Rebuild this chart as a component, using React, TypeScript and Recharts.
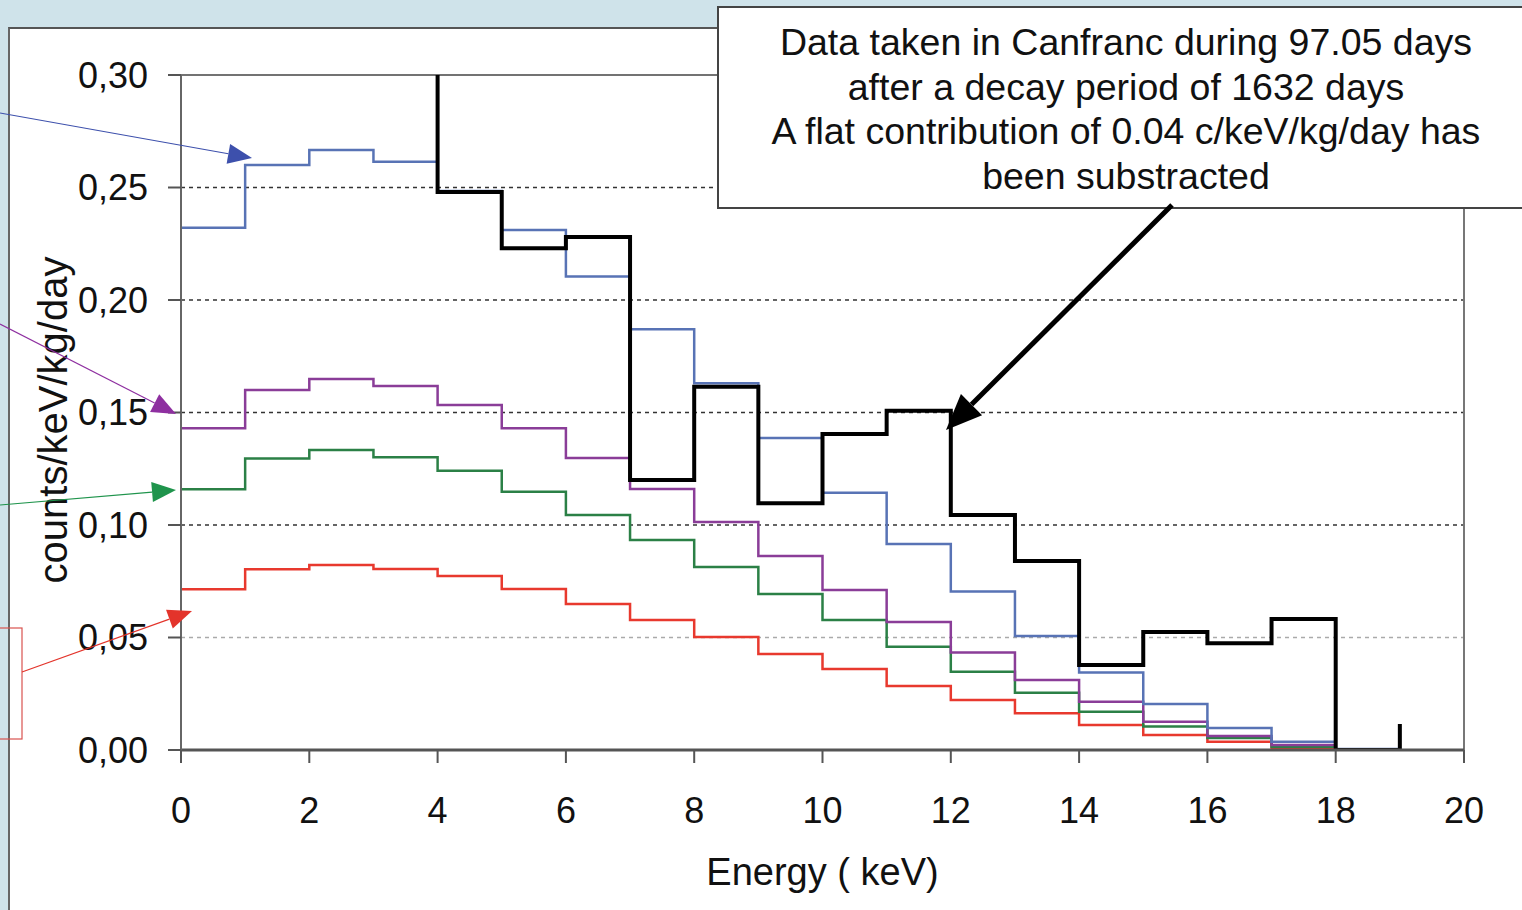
import { LineChart, Line, XAxis, YAxis, ReferenceLine, Label } from 'recharts';

// Energy bin edges (keV); each value holds from its edge to the next one.
const energies = [0, 1, 2, 3, 4, 5, 6, 7, 8, 9, 10, 11, 12, 13, 14, 15, 16, 17, 18, 19];

// Measured spectrum (first bins lie above the plotted range)
const measured = [0.45, 0.42, 0.38, 0.34, 0.248, 0.223, 0.228, 0.12, 0.1615, 0.1097, 0.1404, 0.1508, 0.1044, 0.084, 0.0378, 0.0524, 0.0474, 0.0582, 0.0, 0.0116];
const blueModel = [0.2321, 0.26, 0.2667, 0.2615, 0.2485, 0.2311, 0.2104, 0.187, 0.163, 0.1387, 0.1143, 0.0916, 0.0704, 0.0507, 0.0344, 0.0204, 0.0098, 0.0037, 0.0005, 0.0005];
const purpleModel = [0.143, 0.16, 0.1649, 0.1618, 0.1533, 0.143, 0.1298, 0.116, 0.1013, 0.0862, 0.0711, 0.0569, 0.0433, 0.0311, 0.0215, 0.0126, 0.0062, 0.0022, 0.0003, 0.0003];
const greenModel = [0.1159, 0.1296, 0.1333, 0.1301, 0.1241, 0.1148, 0.1044, 0.0933, 0.0813, 0.0693, 0.0578, 0.0459, 0.0348, 0.0255, 0.017, 0.0104, 0.0053, 0.0015, 0.0002, 0.0002];
const redModel = [0.0714, 0.0803, 0.0822, 0.0804, 0.0773, 0.0716, 0.0649, 0.0578, 0.0502, 0.0427, 0.036, 0.0284, 0.0222, 0.0163, 0.0111, 0.0067, 0.0037, 0.001, 0.0001, 0.0001];

const xTicks = [0, 2, 4, 6, 8, 10, 12, 14, 16, 18, 20];
const yTicks = [0, 0.05, 0.1, 0.15, 0.2, 0.25, 0.3];
const darkGrid = [0.1, 0.15, 0.2, 0.25];

const noteLines = [
  'Data taken in Canfranc during 97.05 days',
  'after a decay period of 1632 days',
  'A flat contribution of 0.04 c/keV/kg/day has',
  'been substracted',
];

const rows = energies.map((e, i) => ({
  e,
  measured: measured[i],
  blue: blueModel[i],
  purple: purpleModel[i],
  green: greenModel[i],
  red: redModel[i],
}));

const FONT = '"Liberation Sans", Arial, Helvetica, sans-serif';

function Arrow({ x1, y1, x2, y2, color, width = 1.2, head = 24, spread = 10 }: any) {
  const ang = Math.atan2(y2 - y1, x2 - x1);
  const bx = x2 - head * Math.cos(ang);
  const by = y2 - head * Math.sin(ang);
  const px = -Math.sin(ang) * spread;
  const py = Math.cos(ang) * spread;
  return (
    <g>
      <line x1={x1} y1={y1} x2={bx} y2={by} stroke={color} strokeWidth={width} />
      <polygon points={`${x2},${y2} ${bx + px},${by + py} ${bx - px},${by - py}`} fill={color} />
    </g>
  );
}

export default function App() {
  return (
    <div style={{ position: 'absolute', left: 0, top: 0, width: 1522, height: 910, overflow: 'hidden', background: '#cfe3ea', fontFamily: FONT }}>
      {/* white panel */}
      <div style={{ position: 'absolute', left: 8, top: 27, width: 1530, height: 900, background: '#fff', borderTop: '2px solid #555', borderLeft: '2px solid #666' }} />
      <div style={{ position: 'absolute', left: 0, top: 0 }}>
        <LineChart width={1522} height={910} data={rows} margin={{ top: 75, right: 58, bottom: 20, left: 61 }}>
          <XAxis
            dataKey="e"
            type="number"
            domain={[0, 20]}
            ticks={xTicks}
            tickSize={13}
            tickMargin={34}
            height={140}
            axisLine={{ stroke: '#555', strokeWidth: 3 }}
            tickLine={{ stroke: '#555', strokeWidth: 2 }}
            tick={{ fill: '#111', fontSize: 36, fontFamily: FONT }}
          >
            <Label value="Energy ( keV)" position="insideBottom" offset={5} fill="#111" fontSize={38} fontFamily={FONT} />
          </XAxis>
          <YAxis
            type="number"
            domain={[0, 0.3]}
            ticks={yTicks}
            allowDataOverflow
            width={120}
            tickSize={13}
            tickMargin={20}
            tickFormatter={(v: number) => v.toFixed(2).replace('.', ',')}
            axisLine={{ stroke: '#666', strokeWidth: 2 }}
            tickLine={{ stroke: '#555', strokeWidth: 2 }}
            tick={{ fill: '#111', fontSize: 36, fontFamily: FONT }}
          />
          {darkGrid.map((v) => (
            <ReferenceLine key={v} y={v} stroke="#333" strokeWidth={1.5} strokeDasharray="4 4" />
          ))}
          <ReferenceLine y={0.05} stroke="#aaa" strokeWidth={1.5} strokeDasharray="4 4" />
          <ReferenceLine y={0.3} stroke="#444" strokeWidth={1.5} />
          <ReferenceLine x={20} stroke="#777" strokeWidth={2} />

          <Line type="stepAfter" dataKey="red" stroke="#e8392e" strokeWidth={2.5} dot={false} isAnimationActive={false} />
          <Line type="stepAfter" dataKey="green" stroke="#2b8046" strokeWidth={2.5} dot={false} isAnimationActive={false} />
          <Line type="stepAfter" dataKey="purple" stroke="#8a3d98" strokeWidth={2.5} dot={false} isAnimationActive={false} />
          <Line type="stepAfter" dataKey="blue" stroke="#5873b5" strokeWidth={2.5} dot={false} isAnimationActive={false} />
          <Line type="stepAfter" dataKey="measured" stroke="#000" strokeWidth={4} dot={false} isAnimationActive={false} />
        </LineChart>
      </div>

      {/* annotations drawn over the chart */}
      <svg width={1522} height={910} style={{ position: 'absolute', left: 0, top: 0, pointerEvents: 'none' }}>
        <text transform="translate(67,420) rotate(-90)" textAnchor="middle" fontSize={40} fill="#111" fontFamily={FONT}>
          counts/keV/kg/day
        </text>

        <rect x={-10} y={628} width={32} height={111} fill="none" stroke="#d9534f" strokeWidth={1.2} />
        <Arrow x1={0} y1={113} x2={252} y2={158} color="#3d50ac" />
        <Arrow x1={0} y1={324} x2={176} y2={414} color="#8e2fa0" />
        <Arrow x1={0} y1={505} x2={176} y2={490} color="#1f944c" />
        <Arrow x1={22} y1={672} x2={192} y2={611} color="#e3342b" />

        <rect x={718} y={7} width={830} height={201} fill="#fff" stroke="#444" strokeWidth={2} />
        {noteLines.map((t, i) => (
          <text key={i} x={1126} y={55 + i * 44.5} textAnchor="middle" fontSize={37.5} fill="#111" fontFamily={FONT}>
            {t}
          </text>
        ))}
        <Arrow x1={1172} y1={205} x2={946} y2={430} color="#000" width={5} head={36} spread={15} />
      </svg>
    </div>
  );
}
